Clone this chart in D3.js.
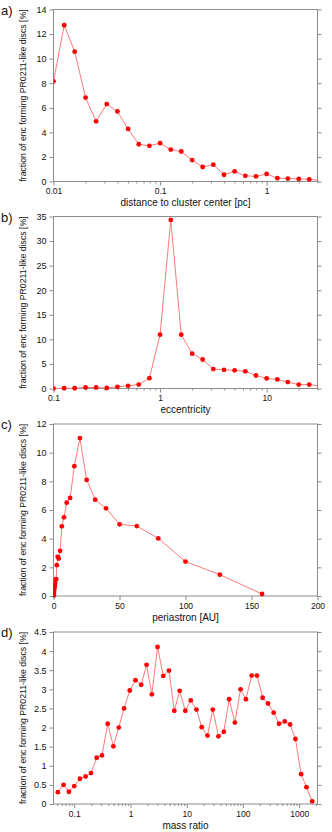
<!DOCTYPE html>
<html>
<head>
<meta charset="utf-8">
<script src="https://cdn.jsdelivr.net/npm/d3@7"></script>
<style>
  body { margin: 0; background: #fff; }
  text { font-family: "Liberation Sans", Arial, sans-serif; }
  .tick text { fill: #111; }
</style>
</head>
<body>
<div id="chart"></div>
<script>
// a) distance to cluster center [pc]
var distX = [0.01, 0.0126, 0.0158, 0.02, 0.0251, 0.0316, 0.0398, 0.0501, 0.0631, 0.0794,
             0.1, 0.126, 0.158, 0.2, 0.251, 0.316, 0.398, 0.501, 0.631, 0.794,
             1, 1.26, 1.58, 2, 2.51, 3.16];
var distY = [8.15, 12.72, 10.57, 6.83, 4.9, 6.3, 5.7, 4.28, 3.03, 2.9,
             3.12, 2.6, 2.44, 1.74, 1.18, 1.37, 0.55, 0.83, 0.46, 0.42,
             0.61, 0.27, 0.24, 0.21, 0.18, 0.1];

// b) eccentricity
var eccX = [0.1, 0.126, 0.158, 0.2, 0.251, 0.316, 0.398, 0.501, 0.631, 0.794,
            1, 1.26, 1.58, 2, 2.51, 3.16, 3.98, 5.01, 6.31, 7.94,
            10, 12.6, 15.8, 20, 25.1, 31.6];
var eccY = [0, 0.05, 0.05, 0.2, 0.2, 0.1, 0.35, 0.55, 0.8, 2.1,
            10.95, 34.3, 10.95, 7.08, 5.9, 3.95, 3.8, 3.7, 3.5, 2.65,
            2.05, 1.85, 1.3, 0.8, 0.8, 0.5];

// c) periastron [AU]
var periX = [0.1, 0.126, 0.158, 0.2, 0.251, 0.316, 0.398, 0.501, 0.631, 0.794,
             1, 1.26, 1.58, 2, 2.51, 3.16, 3.98, 5.01, 6.31, 7.94,
             10, 12.6, 15.8, 20, 25.1, 31.6, 39.8, 50.1, 63.1, 79.4,
             100, 126, 158];
var periY = [0.02, 0.05, 0.1, 0.15, 0.2, 0.3, 0.4, 0.5, 0.6, 0.8,
             0.7, 0.9, 1.15, 1.17, 2.15, 2.73, 2.61, 3.15, 4.86, 5.49,
             6.51, 6.84, 9.06, 11.02, 8.1, 6.72, 6.12, 5.0, 4.88, 4.02,
             2.4, 1.49, 0.14];

// d) mass ratio
var massX = [0.051, 0.0644, 0.0802, 0.1, 0.126, 0.159, 0.198, 0.25, 0.311, 0.393,
             0.496, 0.618, 0.769, 0.97, 1.23, 1.55, 1.93, 2.4, 3.03, 3.83,
             4.83, 6.01, 7.49, 9.45, 11.8, 14.9, 18.5, 23.4, 29.1, 36.7,
             45.7, 56.9, 71.9, 90.7, 113, 143, 178, 224, 279, 352,
             439, 554, 690, 859, 1084, 1350, 1706];
var massY = [0.31, 0.5, 0.32, 0.47, 0.66, 0.72, 0.81, 1.21, 1.27, 2.1,
             1.51, 2.0, 2.5, 2.97, 3.24, 3.12, 3.64, 2.87, 4.11, 3.35,
             3.49, 2.44, 2.96, 2.44, 2.71, 2.47, 2.01, 1.79, 2.47, 1.77,
             1.89, 2.74, 2.13, 3.0, 2.74, 3.36, 3.36, 2.78, 2.63, 2.39,
             2.1, 2.16, 2.08, 1.7, 0.78, 0.44, 0.07];

var distTicks = [0.01, 0.1, 1];
var eccTicks = [0.1, 1, 10];
var periTicks = [0, 50, 100, 150, 200];
var massTicks = [0.1, 1, 10, 100, 1000];

var yLabel = "fraction of enc forming PR0211-like discs [%]";

var panels = [
  {tag: "a)", x: distX, y: distY, log: true, xdom: [0.01, 3], xticks: distTicks,
   ydom: [0, 14], yticks: d3.range(0, 15, 2), xlabel: "distance to cluster center [pc]", top: 9.5},
  {tag: "b)", x: eccX, y: eccY, log: true, xdom: [0.1, 30], xticks: eccTicks,
   ydom: [0, 35], yticks: d3.range(0, 36, 5), xlabel: "eccentricity", top: 216.5},
  {tag: "c)", x: periX, y: periY, log: false, xdom: [0, 200], xticks: periTicks,
   ydom: [0, 12], yticks: d3.range(0, 13, 2), xlabel: "periastron [AU]", top: 424},
  {tag: "d)", x: massX, y: massY, log: true, xdom: [0.0427, 2120], xticks: massTicks,
   ydom: [0, 4.5], yticks: d3.range(0, 4.6, 0.5), xlabel: "mass ratio", top: 632}
];

var W = 332, H = 832;
var left = 53.5, right = 317.5, ph = 172;
var axisColor = "#8c8c8c";

var svg = d3.select("#chart").append("svg")
    .attr("width", W)
    .attr("height", H);

panels.forEach(function(p, idx) {
  var top = p.top, bottom = top + ph;

  var x = (p.log ? d3.scaleLog() : d3.scaleLinear())
      .domain(p.xdom)
      .range([left, right]);
  var y = d3.scaleLinear()
      .domain(p.ydom)
      .range([bottom, top]);

  var g = svg.append("g");

  // clip for data
  g.append("clipPath")
      .attr("id", "clip" + idx)
      .append("rect")
      .attr("x", left)
      .attr("y", top - 4)
      .attr("width", right - left)
      .attr("height", ph + 8);

  // minor ticks on log axes
  if (p.log) {
    var minor = x.ticks().filter(function(v) {
      return v >= p.xdom[0] && v <= p.xdom[1] && p.xticks.indexOf(v) < 0;
    });
    g.append("g")
        .attr("transform", "translate(0," + bottom + ")")
        .call(d3.axisBottom(x).tickValues(minor).tickSize(2).tickFormat("").tickSizeOuter(0))
        .call(function(s) { s.select(".domain").remove(); })
        .selectAll("line").attr("stroke", axisColor);
  }

  var xa = g.append("g")
      .attr("transform", "translate(0," + bottom + ")")
      .call(d3.axisBottom(x).tickValues(p.xticks).tickSize(4).tickPadding(2.5)
            .tickFormat(d3.format("~g")).tickSizeOuter(0));
  xa.select(".domain").remove();
  xa.selectAll("line").attr("stroke", axisColor);
  xa.selectAll("text").attr("font-size", "8.5px");

  var ya = g.append("g")
      .attr("transform", "translate(" + left + ",0)")
      .call(d3.axisLeft(y).tickValues(p.yticks).tickSize(4).tickPadding(3)
            .tickFormat(d3.format("~g")).tickSizeOuter(0));
  ya.select(".domain").remove();
  ya.selectAll("line").attr("stroke", axisColor);
  ya.selectAll("text").attr("font-size", "9px");

  var yr = g.append("g")
      .attr("transform", "translate(" + right + ",0)")
      .call(d3.axisRight(y).tickValues(p.yticks).tickSize(4).tickFormat("").tickSizeOuter(0));
  yr.select(".domain").remove();
  yr.selectAll("line").attr("stroke", axisColor);

  // frame
  g.append("rect")
      .attr("x", left)
      .attr("y", top)
      .attr("width", right - left)
      .attr("height", ph)
      .attr("fill", "none")
      .attr("stroke", axisColor)
      .attr("stroke-width", 1);

  var pts = d3.zip(p.x, p.y);
  var line = d3.line()
      .x(function(d) { return x(d[0]); })
      .y(function(d) { return y(d[1]); });

  var data = g.append("g").attr("clip-path", "url(#clip" + idx + ")");
  data.append("path")
      .datum(pts)
      .attr("d", line)
      .attr("fill", "none")
      .attr("stroke", "#ff7a7a")
      .attr("stroke-width", 1);

  data.selectAll("circle")
      .data(pts)
      .enter().append("circle")
      .attr("cx", function(d) { return x(d[0]); })
      .attr("cy", function(d) { return y(d[1]); })
      .attr("r", 2.4)
      .attr("fill", "#ff0000");

  // axis titles
  g.append("text")
      .attr("x", (left + right) / 2)
      .attr("y", bottom + 24.5)
      .attr("text-anchor", "middle")
      .attr("font-size", "10px")
      .attr("fill", "#111")
      .text(p.xlabel);

  g.append("text")
      .attr("transform", "translate(22.5," + (top + ph / 2) + ") rotate(-90)")
      .attr("dy", "0.35em")
      .attr("text-anchor", "middle")
      .attr("font-size", "8.7px")
      .attr("fill", "#111")
      .text(yLabel);

  g.append("text")
      .attr("x", 1)
      .attr("y", top + 5)
      .attr("font-size", "13px")
      .attr("fill", "#111")
      .text(p.tag);
});
</script>
</body>
</html>
